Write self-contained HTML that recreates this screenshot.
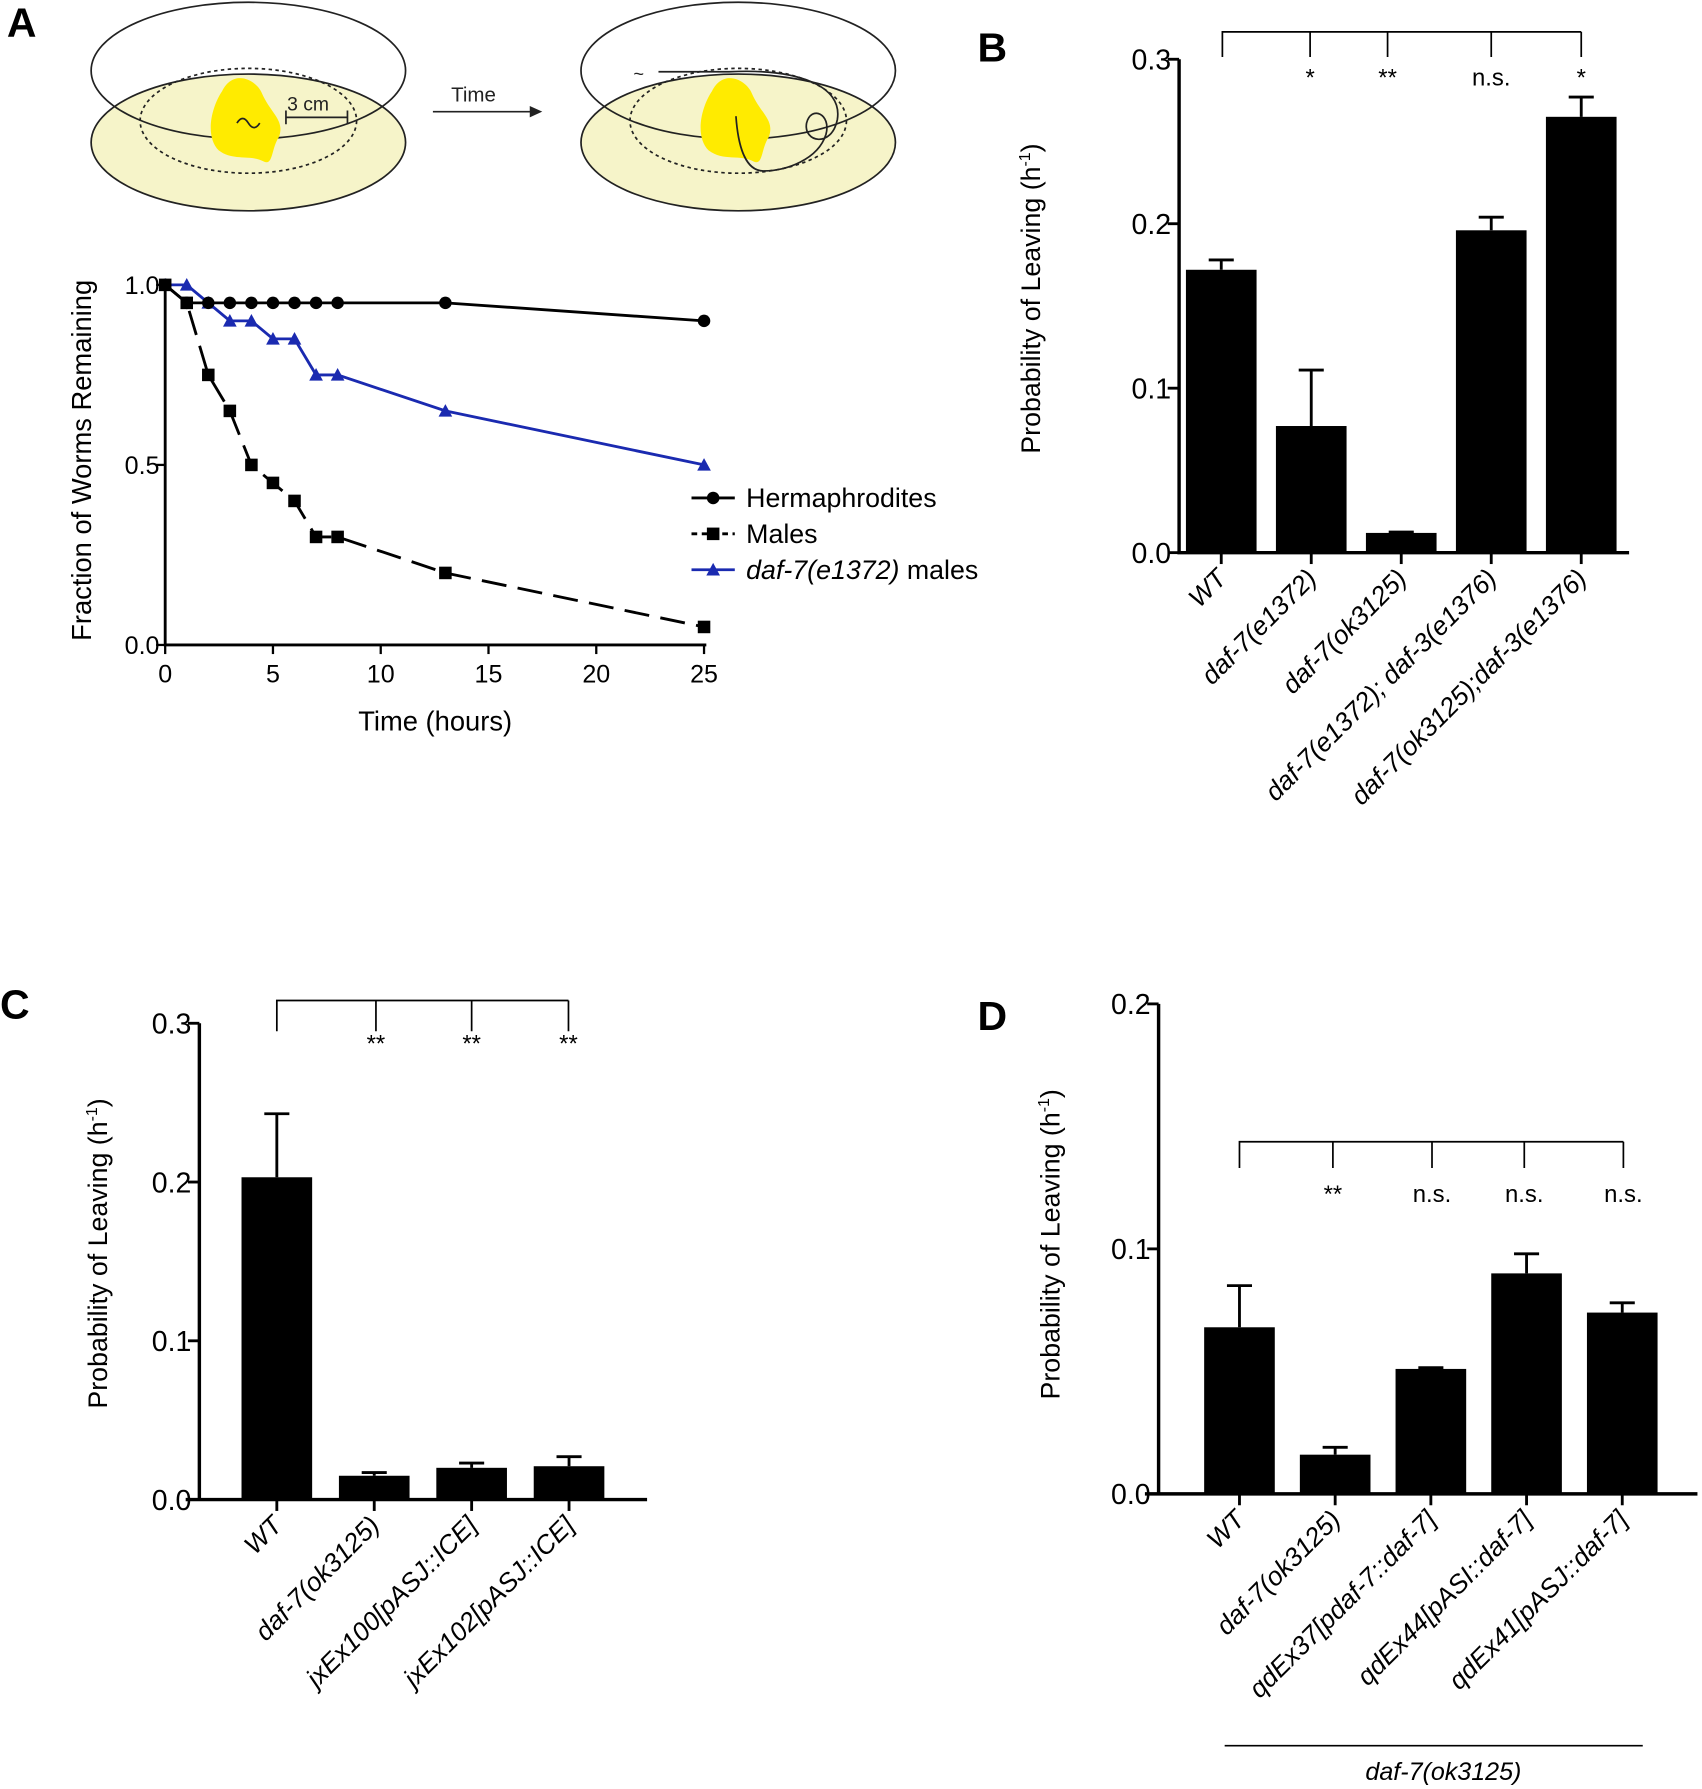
<!DOCTYPE html>
<html><head><meta charset="utf-8"><style>
html,body{margin:0;padding:0;background:#fff}
svg{display:block;font-family:"Liberation Sans",Arial,sans-serif}
</style></head><body>
<svg id="fig" width="1702" height="1789" viewBox="0 0 1494 1570" preserveAspectRatio="none" xmlns="http://www.w3.org/2000/svg">
<g font-weight="bold" font-size="36">
<text x="6" y="32">A</text>
<text x="858" y="54">B</text>
<text x="0" y="894">C</text>
<text x="858" y="904">D</text>
</g>
<g stroke="#222" stroke-width="1.5">
<ellipse cx="218" cy="125" rx="138" ry="60" fill="#f6f4c9"/>
<ellipse cx="218" cy="62" rx="138" ry="60" fill="none"/>
<ellipse cx="218" cy="106" rx="95" ry="46" fill="none" stroke-dasharray="3,3"/>
<path d="M195,80 C205,60 225,70 230,82 C238,100 250,105 245,120 C238,130 240,145 232,142 C220,135 205,142 192,132 C180,120 185,95 195,80Z" fill="#ffeb00" stroke="none"/>
<path d="M208,108 q5,-8 10,0 q5,8 10,0" fill="none"/>
<path d="M251,103 L305,103 M251,97 L251,109 M305,97 L305,109"/>
<text x="252" y="97" font-size="17" stroke="none" fill="#222">3 cm</text>
</g>
<g>
<text x="396" y="89" font-size="18" fill="#222">Time</text>
<line x1="380" y1="98" x2="468" y2="98" stroke="#222" stroke-width="1.5"/>
<path d="M476,98 L465,93 L465,103Z" fill="#222"/>
</g>
<g stroke="#222" stroke-width="1.5">
<ellipse cx="648" cy="125" rx="138" ry="60" fill="#f6f4c9"/>
<ellipse cx="648" cy="62" rx="138" ry="60" fill="none"/>
<ellipse cx="648" cy="106" rx="95" ry="46" fill="none" stroke-dasharray="3,3"/>
<path d="M625,80 C635,60 655,70 660,82 C668,100 680,105 675,120 C668,130 670,145 662,142 C650,135 635,142 622,132 C610,120 615,95 625,80Z" fill="#ffeb00" stroke="none"/>
<path d="M578,63 L640,63 C700,60 740,75 735,105 C730,130 705,125 708,108 C712,92 730,100 725,118 C718,140 690,150 670,150 C655,150 648,130 646,102" fill="none"/>
<text x="556" y="70" font-size="16" stroke="none" fill="#222">~</text>
</g>
<g id="chartA"></g>
<g id="chartB"></g>
<g id="chartC"></g>
<g id="chartD"></g>
</svg>
<script>
var NS="http://www.w3.org/2000/svg";
// Panel A data
var timesA=[0,1,2,3,4,5,6,7,8,13,25];
var hermValues=[1.0,0.95,0.95,0.95,0.95,0.95,0.95,0.95,0.95,0.95,0.90];
var maleValues=[1.0,0.95,0.75,0.65,0.50,0.45,0.40,0.30,0.30,0.20,0.05];
var daf7Values=[1.0,1.0,0.95,0.90,0.90,0.85,0.85,0.75,0.75,0.65,0.50];
var xTicksA=[0,5,10,15,20,25];
var yTicksA=["0.0","0.5","1.0"];
// Panel B data
var catsB=["WT","daf-7(e1372)","daf-7(ok3125)","daf-7(e1372); daf-3(e1376)","daf-7(ok3125);daf-3(e1376)"];
var valsB=[0.172,0.077,0.012,0.196,0.265];
var errB=[0.006,0.034,0.0005,0.008,0.012];
var yTicksB=["0.0","0.1","0.2","0.3"];
var sigB=["*","**","n.s.","*"];
// Panel C data
var catsC=["WT","daf-7(ok3125)","jxEx100[pASJ::ICE]","jxEx102[pASJ::ICE]"];
var valsC=[0.203,0.015,0.020,0.021];
var errC=[0.040,0.002,0.003,0.006];
var yTicksC=["0.0","0.1","0.2","0.3"];
var sigC=["**","**","**"];
// Panel D data
var catsD=["WT","daf-7(ok3125)","qdEx37[pdaf-7::daf-7]","qdEx44[pASI::daf-7]","qdEx41[pASJ::daf-7]"];
var valsD=[0.068,0.016,0.051,0.090,0.074];
var errD=[0.017,0.003,0.0005,0.008,0.004];
var yTicksD=["0.0","0.1","0.2"];
var sigD=["**","n.s.","n.s.","n.s."];

function el(parent,tag,attrs,text){var e=document.createElementNS(NS,tag);for(var k in attrs)e.setAttribute(k,attrs[k]);if(text!==undefined)e.textContent=text;parent.appendChild(e);return e;}

// ---- Chart A ----
(function(){
var g=document.getElementById('chartA');
var x=function(t){return 145+t*(618-145)/25;};
var y=function(v){return 566-v*(566-250);};
var ax=el(g,'path',{d:'M145,250 L145,566 L620,566',fill:'none',stroke:'#000','stroke-width':2.5});


xTicksA.forEach(function(t){
 var tk=el(g,'line',{x1:x(t),x2:x(t),y1:566,y2:574,stroke:'#000','stroke-width':2});
 
 
 var tl=el(g,'text',{x:x(t),y:599,'font-size':22,'text-anchor':'middle'},String(t));
 
 
});
yTicksA.forEach(function(s){
 var v=parseFloat(s);
 var tk=el(g,'line',{x1:137,x2:145,y1:y(v),y2:y(v),stroke:'#000','stroke-width':2});
 
 
 var tl=el(g,'text',{x:140,y:y(v)+8,'font-size':22,'text-anchor':'end'},s);
 
 
});
var xt=el(g,'text',{x:382,y:641,'font-size':24,'text-anchor':'middle'},'Time (hours)');


var yt=el(g,'text',{x:0,y:0,'font-size':24,'text-anchor':'middle',transform:'translate(80,404) rotate(-90)'},'Fraction of Worms Remaining');


function series(vals,color,dash,marker,name){
 var d='';vals.forEach(function(v,i){d+=(i?'L':'M')+x(timesA[i])+','+y(v);});
 var p=el(g,'path',{d:d,fill:'none',stroke:color,'stroke-width':2.5,'stroke-dasharray':dash});
 
 
 vals.forEach(function(v,i){
  var cx=x(timesA[i]),cy=y(v),m;
  if(marker==='c')m=el(g,'circle',{cx:cx,cy:cy,r:5.5,fill:color});
  else if(marker==='s')m=el(g,'rect',{x:cx-5.5,y:cy-5.5,width:11,height:11,fill:color});
  else m=el(g,'path',{d:'M'+cx+','+(cy-6)+'L'+(cx+6)+','+(cy+5)+'L'+(cx-6)+','+(cy+5)+'Z',fill:color});
  
  
 });
}
series(daf7Values,'#1a2ab0','none','t','daf7-males');
series(maleValues,'#000','22,10','s','males');
series(hermValues,'#000','none','c','hermaphrodites');
var leg=[['Hermaphrodites','#000','none','c'],['Males','#000','5,4','s'],['daf-7(e1372) males','#1a2ab0','none','t']];
leg.forEach(function(L,i){
 var yy=437+i*31.5;
 var ln=el(g,'line',{x1:607,x2:645,y1:yy,y2:yy,stroke:L[1],'stroke-width':2.5,'stroke-dasharray':L[2]});
 
 
 var m;
 if(L[3]==='c')m=el(g,'circle',{cx:626,cy:yy,r:5.5,fill:L[1]});
 else if(L[3]==='s')m=el(g,'rect',{x:620.5,y:yy-5.5,width:11,height:11,fill:L[1]});
 else m=el(g,'path',{d:'M626,'+(yy-6)+'L632,'+(yy+5)+'L620,'+(yy+5)+'Z',fill:L[1]});
 
 
 var t=el(g,'text',{x:655,y:yy+8,'font-size':23.5});
 if(i===2){el(t,'tspan',{'font-style':'italic'},'daf-7(e1372)');el(t,'tspan',{},' males');}
 else t.textContent=L[0];
 
 
});
})();

// ---- Bar charts ----
function barChart(id,cfg,cats,vals,errs,ticks,sigs){
 var g=document.getElementById(id);
 var y=function(v){return cfg.y0-v*(cfg.y0-cfg.yTop)/cfg.vmax;};
 var xc=function(i){return cfg.x0+i*cfg.step;};
 var ax=el(g,'path',{d:'M'+cfg.ax+','+cfg.yTop+' L'+cfg.ax+','+cfg.y0+' L'+cfg.axEnd+','+cfg.y0+' M'+cfg.axStart+','+cfg.y0+' L'+cfg.ax+','+cfg.y0,fill:'none',stroke:'#000','stroke-width':3});
 
 
 ticks.forEach(function(s){
  var v=parseFloat(s);
  var tk=el(g,'line',{x1:cfg.ax-10,x2:cfg.ax,y1:y(v),y2:y(v),stroke:'#000','stroke-width':2.5});
  
  
  var tl=el(g,'text',{x:cfg.ax-7,y:y(v)+9,'font-size':25,'text-anchor':'end'},s);
  
  
 });
 var yt=el(g,'text',{x:0,y:0,'font-size':23.5,'text-anchor':'middle',transform:'translate('+cfg.ytx+','+cfg.yty+') rotate(-90)'});
 el(yt,'tspan',{},'Probability of Leaving (h');
 el(yt,'tspan',{'font-size':14,dy:-9},'-1');
 el(yt,'tspan',{dy:9},')');
 
 
 cats.forEach(function(c,i){
  var cx=xc(i),v=vals[i],e=errs[i];
  var eb=el(g,'path',{d:'M'+cx+','+y(v)+' L'+cx+','+y(v+e)+' M'+(cx-11)+','+y(v+e)+' L'+(cx+11)+','+y(v+e),stroke:'#000','stroke-width':2.5,fill:'none'});
  
  
  var b=el(g,'rect',{x:cx-cfg.bw/2,y:y(v),width:cfg.bw,height:cfg.y0-y(v),fill:'#000'});
  
  
  var tk=el(g,'line',{x1:cx,x2:cx,y1:cfg.y0,y2:cfg.y0+10,stroke:'#000','stroke-width':2.5});
  
  
  var tl=el(g,'text',{x:0,y:0,'font-size':23,'font-style':'italic','text-anchor':'end',transform:'translate('+(cx+6)+','+(cfg.y0+24)+') rotate(-45)'},c);
  
  
 });
 var br=cfg.br,d='M'+br.x0+','+br.yBot+' L'+br.x0+','+br.y+' L'+br.xs[br.xs.length-1]+','+br.y;
 br.xs.forEach(function(xx){d+=' M'+xx+','+br.y+' L'+xx+','+br.yBot;});
 var bk=el(g,'path',{d:d,stroke:'#000','stroke-width':1.5,fill:'none'});
 
 
 sigs.forEach(function(s,i){
  var t=el(g,'text',{x:br.xs[i],y:br.ty,'font-size':21,'text-anchor':'middle'},s);
  
  
 });
}
barChart('chartB',{x0:1072,step:79,bw:62,ax:1035,axStart:1035,axEnd:1430,y0:485,yTop:52,vmax:0.3,ytx:913,yty:262,
 br:{x0:1073,y:28,yBot:50,xs:[1150,1218,1309,1388],ty:75}},catsB,valsB,errB,yTicksB,sigB);
barChart('chartC',{x0:243,step:85.5,bw:62,ax:175,axStart:163,axEnd:568,y0:1316,yTop:898,vmax:0.3,ytx:94,yty:1100,
 br:{x0:243,y:878,yBot:905,xs:[330,414,499],ty:923}},catsC,valsC,errC,yTicksC,sigC);
barChart('chartD',{x0:1088,step:84,bw:62,ax:1017,axStart:1005,axEnd:1490,y0:1311,yTop:881,vmax:0.2,ytx:930,yty:1092,
 br:{x0:1088,y:1002,yBot:1025,xs:[1170,1257,1338,1425],ty:1055}},catsD,valsD,errD,yTicksD,sigD);
(function(){
 var g=document.getElementById('chartD');
 var l=el(g,'line',{x1:1075,x2:1442,y1:1532,y2:1532,stroke:'#000','stroke-width':1.5});
 
 
 var t=el(g,'text',{x:1267,y:1562,'font-size':22,'font-style':'italic','text-anchor':'middle'},'daf-7(ok3125)');
 
 
})();
</script>
</body></html>
